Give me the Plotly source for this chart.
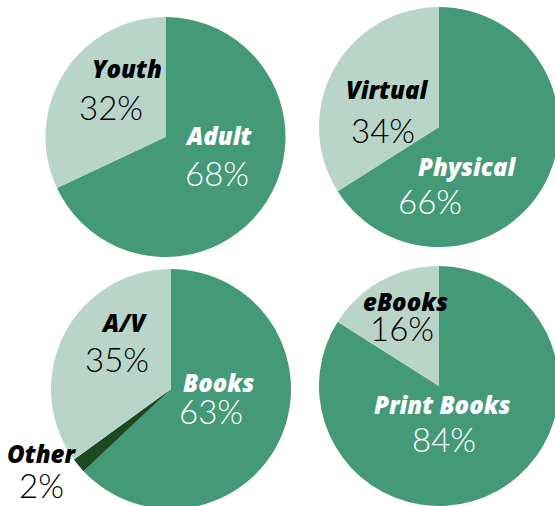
import plotly.graph_objects as go

# ---- data ----
pie1_labels = ["Adult", "Youth"]
pie1_values = [68, 32]
pie2_labels = ["Physical", "Virtual"]
pie2_values = [66, 34]
pie3_labels = ["Books", "Other", "A/V"]
pie3_values = [63, 2, 35]
pie4_labels = ["Print Books", "eBooks"]
pie4_values = [84, 16]

# ---- styles / layout ----
W, H = 570, 520
R = 120
MAIN, LIGHT, DARK = "#449A78", "#B9D5CA", "#1B4A20"

pies = [
    (pie1_labels, pie1_values, (165.5, 137), [MAIN, LIGHT]),
    (pie2_labels, pie2_values, (439, 127), [MAIN, LIGHT]),
    (pie3_labels, pie3_values, (171, 389), [MAIN, DARK, LIGHT]),
    (pie4_labels, pie4_values, (439, 386), [MAIN, LIGHT]),
]

# label text positions (pixels): (label_xy, value_xy, color) per slice
label_pos = [
    {"Adult": ((219, 136), (217, 173), "white"), "Youth": ((127, 69), (111, 107), "black")},
    {"Physical": ((467, 167), (430, 201), "white"), "Virtual": ((387, 89), (383, 130), "black")},
    {"Books": ((218, 382), (211, 411), "white"), "A/V": ((124, 322), (117, 359), "black"),
     "Other": ((42, 453), (42, 485), "black")},
    {"Print Books": ((442, 404), (444, 439), "white"), "eBooks": ((405, 301), (402, 328), "black")},
]

fig = go.Figure()
annotations = []
for (labels, values, (cx, cy), colors), pos in zip(pies, label_pos):
    fig.add_trace(go.Pie(
        labels=labels, values=values, sort=False, direction="clockwise",
        rotation=0, textinfo="none", hoverinfo="label+percent",
        marker=dict(colors=colors, line=dict(width=0)),
        domain=dict(x=[(cx - R) / W, (cx + R) / W], y=[1 - (cy + R) / H, 1 - (cy - R) / H]),
        showlegend=False,
    ))
    total = sum(values)
    for lab, val in zip(labels, values):
        (lx, ly), (vx, vy), col = pos[lab]
        annotations.append(dict(
            x=lx / W, y=1 - ly / H, xref="paper", yref="paper", showarrow=False,
            text=f"<i>{lab}</i>", xanchor="center", yanchor="middle",
            font=dict(family="Open Sans", size=24, color=col, weight=800, style="italic"),
        ))
        annotations.append(dict(
            x=vx / W, y=1 - vy / H, xref="paper", yref="paper", showarrow=False,
            text=f"{round(100 * val / total)}%", xanchor="center", yanchor="middle",
            font=dict(family="Lato", size=33, color=col, weight=300),
        ))

fig.update_layout(
    width=W, height=H, margin=dict(l=0, r=0, t=0, b=0),
    paper_bgcolor="white", plot_bgcolor="white",
    annotations=annotations,
)

fig.write_html(
    "out.html",
    config={"displayModeBar": False},
    post_script="document.body.style.margin='0';document.body.style.overflow='hidden';",
)
